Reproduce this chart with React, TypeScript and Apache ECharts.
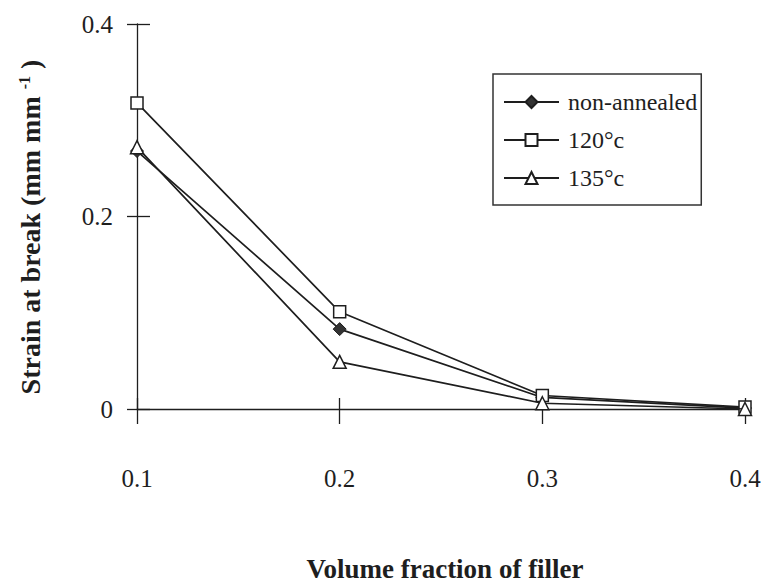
import React, { useEffect, useRef } from "react";
import * as echarts from "echarts";

// Volume fraction of filler (x) and strain at break (mm mm^-1) per treatment
const fractions = [0.1, 0.2, 0.3, 0.4];
const nonAnnealed = [0.268, 0.083, 0.012, 0.001];
const annealed120 = [0.318, 0.101, 0.014, 0.002];
const annealed135 = [0.272, 0.049, 0.006, 0.0];

const seriesNames = ["non-annealed", "120°c", "135°c"];
const xTicks = ["0.1", "0.2", "0.3", "0.4"];

const FONT = "'Liberation Serif', 'Times New Roman', serif";
const INK = "#1e1e1e";

function pairs(values: number[]) {
  return fractions.map((x, i) => [x, values[i]]);
}

export default function App() {
  const ref = useRef<HTMLDivElement>(null);

  useEffect(() => {
    if (!ref.current) return;
    const chart = echarts.init(ref.current, null, { renderer: "svg" });

    const gridBox = { left: 137, right: 19, top: 24, bottom: 174 };
    const lineStyle = { color: INK, width: 1.7 };

    chart.setOption({
      animation: false,
      backgroundColor: "#fff",
      grid: [
        { ...gridBox, containLabel: false },
        { ...gridBox, containLabel: false },
      ],
      xAxis: [
        {
          type: "value",
          gridIndex: 0,
          min: 0.1,
          max: 0.4,
          interval: 0.1,
          axisLine: { show: true, onZero: false, lineStyle: { color: INK, width: 1.3 } },
          axisTick: { show: true, inside: false, length: 15, lineStyle: { color: INK, width: 1.3 } },
          axisLabel: {
            margin: 57,
            color: INK,
            fontFamily: FONT,
            fontSize: 25,
            formatter: (v: number) => {
              const idx = Math.round((v - 0.1) * 10);
              return xTicks[idx] ?? v.toFixed(1);
            },
          },
          splitLine: { show: false },
        },
        {
          type: "value",
          gridIndex: 1,
          min: 0.1,
          max: 0.4,
          interval: 0.1,
          axisLine: { show: false },
          axisTick: { show: true, inside: true, length: 11, lineStyle: { color: INK, width: 1.3 } },
          axisLabel: { show: false },
          splitLine: { show: false },
        },
      ],
      yAxis: [
        {
          type: "value",
          gridIndex: 0,
          min: 0,
          max: 0.4,
          interval: 0.2,
          axisLine: { show: true, onZero: false, lineStyle: { color: INK, width: 1.3 } },
          axisTick: { show: true, inside: false, length: 10, lineStyle: { color: INK, width: 1.3 } },
          axisLabel: {
            margin: 24,
            color: INK,
            fontFamily: FONT,
            fontSize: 25,
            formatter: (v: number) => (v === 0 ? "0" : v.toFixed(1)),
          },
          splitLine: { show: false },
        },
        {
          type: "value",
          gridIndex: 1,
          min: 0,
          max: 0.4,
          interval: 0.2,
          axisLine: { show: false },
          axisTick: { show: true, inside: true, length: 13, lineStyle: { color: INK, width: 1.3 } },
          axisLabel: { show: false },
          splitLine: { show: false },
        },
      ],
      legend: {
        orient: "vertical",
        left: 493,
        top: 74,
        data: seriesNames,
        itemWidth: 55,
        itemHeight: 15,
        itemGap: 14,
        padding: [16, 4, 15, 10],
        borderColor: "#333",
        borderWidth: 1.5,
        backgroundColor: "#fff",
        textStyle: {
          color: INK,
          fontFamily: FONT,
          fontSize: 24,
          lineHeight: 24,
          padding: [0, 0, 0, 4],
        },
      },
      series: [
        {
          name: seriesNames[0],
          type: "line",
          xAxisIndex: 0,
          yAxisIndex: 0,
          data: pairs(nonAnnealed),
          symbol: "diamond",
          symbolSize: 13,
          itemStyle: { color: "#333", borderColor: INK, borderWidth: 1 },
          lineStyle,
          z: 2,
        },
        {
          name: seriesNames[1],
          type: "line",
          xAxisIndex: 0,
          yAxisIndex: 0,
          data: pairs(annealed120),
          symbol: "rect",
          symbolSize: 12,
          itemStyle: { color: "#fff", borderColor: INK, borderWidth: 1.5 },
          lineStyle,
          z: 3,
        },
        {
          name: seriesNames[2],
          type: "line",
          xAxisIndex: 0,
          yAxisIndex: 0,
          data: pairs(annealed135),
          symbol: "triangle",
          symbolSize: 13,
          itemStyle: { color: "#fff", borderColor: INK, borderWidth: 1.5 },
          lineStyle,
          z: 4,
        },
      ],
      graphic: [
        {
          type: "text",
          x: 30,
          y: 227,
          rotation: Math.PI / 2,
          style: {
            text: "Strain at break (mm mm {sup|-1} )",
            fill: INK,
            font: `bold 28px ${FONT}`,
            align: "center",
            verticalAlign: "middle",
            rich: {
              sup: {
                fontFamily: FONT,
                fontWeight: "bold",
                fontSize: 16,
                verticalAlign: "top",
                fill: INK,
              },
            },
          },
        },
        {
          type: "text",
          x: 445,
          y: 569,
          style: {
            text: "Volume fraction of filler",
            fill: INK,
            font: `bold 27px ${FONT}`,
            align: "center",
            verticalAlign: "middle",
          },
        },
      ],
    });

    return () => chart.dispose();
  }, []);

  return (
    <div
      ref={ref}
      style={{ position: "fixed", left: 0, top: 0, width: 764, height: 583 }}
    />
  );
}
